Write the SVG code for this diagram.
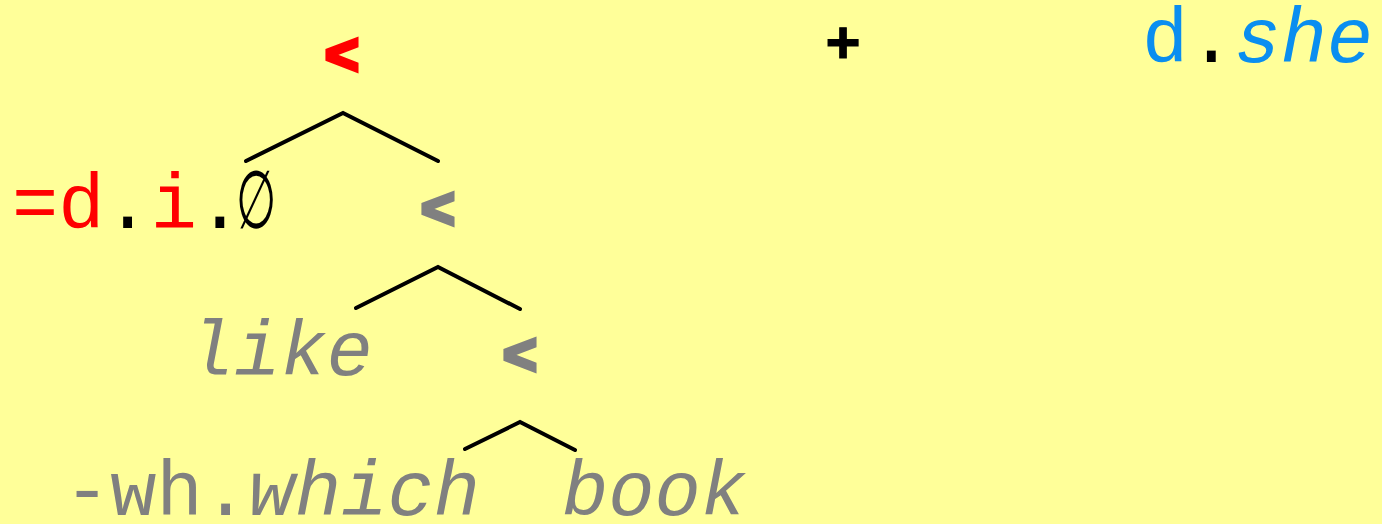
<svg xmlns="http://www.w3.org/2000/svg" width="1382" height="524" viewBox="0 0 1382 524">
<style>
.t{font-family:"Liberation Mono","Courier New",monospace;font-size:77px}
.b{font-family:"Liberation Sans",Arial,sans-serif;font-weight:bold;text-anchor:middle;font-size:58px;stroke-width:4;stroke-linejoin:miter}
.i{font-style:italic}
.red{fill:#ff0000}
.b.red{stroke:#ff0000}
.gray{fill:#808080}
.b.gray{stroke:#808080}
.blue{fill:#0a8ef0}
.k{fill:#000}
.e{stroke:#000;stroke-width:4;fill:none;stroke-linecap:round;stroke-linejoin:miter}
</style>
<rect width="1382" height="524" fill="#ffff99"/>
<g id="connectors">
<polyline class="e" points="246,161 343,113 438,161"/>
<polyline class="e" points="356,308 438,267 520,309"/>
<polyline class="e" points="465,449 520,422 575,450"/>
</g>
<g id="root"><text class="t b red" x="342" y="74">&lt;</text></g>
<g id="plus"><text class="t b k" x="843" y="63" style="font-size:60px;stroke:#000;stroke-width:1">+</text></g>
<g id="she"><text class="t" x="1142" y="62"><tspan class="blue">d</tspan><tspan class="k">.</tspan><tspan class="blue i">she</tspan></text></g>
<g id="di"><text class="t" x="12" y="228"><tspan class="red">=d</tspan><tspan class="k">.</tspan><tspan class="red">i</tspan><tspan class="k">.</tspan></text><text class="k" transform="translate(256,228) scale(0.6,1.05)" text-anchor="middle" style="font-family:'Liberation Serif','DejaVu Serif',serif;font-size:77px">∅</text></g>
<g id="n2"><text class="t b gray" x="438" y="228">&lt;</text></g>
<g id="like"><text class="t i gray" x="188" y="375">like</text></g>
<g id="n3"><text class="t b gray" x="520" y="374">&lt;</text></g>
<g id="which"><text class="t gray" x="64" y="515">-wh.<tspan class="i">which</tspan></text></g>
<g id="book"><text class="t i gray" x="562" y="515">book</text></g>
</svg>
